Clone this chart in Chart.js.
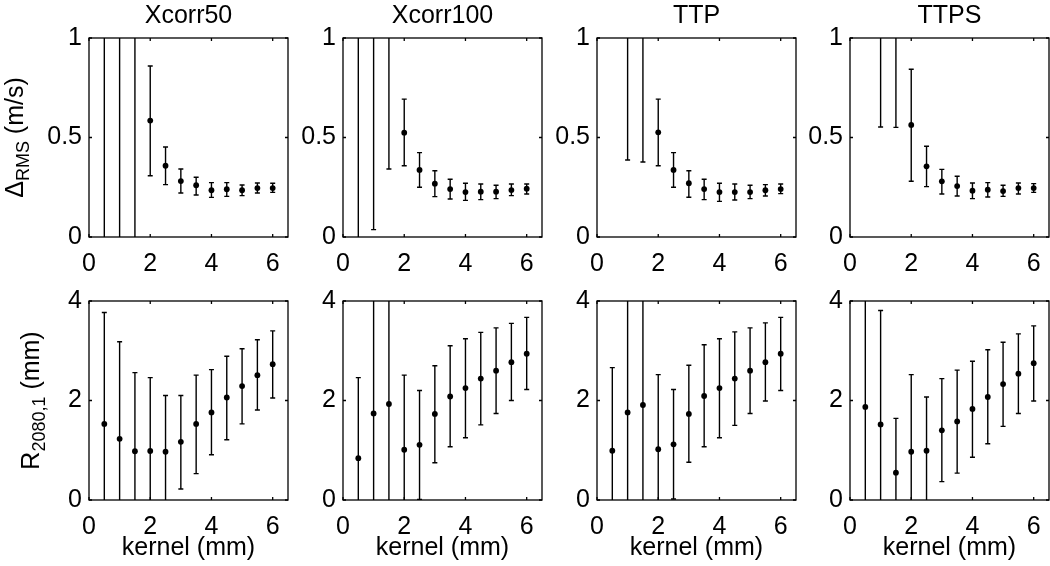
<!DOCTYPE html>
<html>
<head>
<meta charset="utf-8">
<script src="https://cdn.jsdelivr.net/npm/chart.js@4.4.1/dist/chart.umd.min.js"></script>
<style>
  body { margin: 0; background: #fff; }
  #wrap { position: relative; width: 1050px; height: 566px; overflow: hidden; }
  #wrap canvas { position: absolute; }
</style>
</head>
<body>
<div id="wrap"></div>
<script>
// kernel size (mm) on the x axis
var kernel = [0.5, 1, 1.5, 2, 2.5, 3, 3.5, 4, 4.5, 5, 5.5, 6];
var xTicks = [0, 2, 4, 6];
var rmsTicks = [0, 0.5, 1];
var rTicks = [0, 2, 4];
var methods = ['Xcorr50', 'Xcorr100', 'TTP', 'TTPS'];

// Delta_RMS (m/s): mean, lower and upper end of the error bar
var rmsXcorr50   = [1.9, 1.5, 1.2, 0.585, 0.358, 0.281, 0.26, 0.235, 0.24, 0.235, 0.246, 0.246];
var rmsXcorr50Lo = [-0.6, -0.4, -0.2, 0.308, 0.263, 0.221, 0.211, 0.199, 0.204, 0.208, 0.221, 0.224];
var rmsXcorr50Hi = [4.4, 3.4, 2.6, 0.859, 0.452, 0.342, 0.30, 0.273, 0.273, 0.261, 0.271, 0.270];

var rmsXcorr100   = [1.8, 1.3, 1.1, 0.524, 0.337, 0.268, 0.241, 0.226, 0.228, 0.228, 0.236, 0.243];
var rmsXcorr100Lo = [-0.3, 0.037, 0.342, 0.358, 0.25, 0.203, 0.191, 0.184, 0.188, 0.193, 0.208, 0.216];
var rmsXcorr100Hi = [3.9, 2.6, 1.9, 0.693, 0.424, 0.333, 0.29, 0.27, 0.266, 0.26, 0.266, 0.266];

var rmsTTP   = [3.0, 1.3, 1.2, 0.526, 0.337, 0.27, 0.241, 0.226, 0.226, 0.226, 0.235, 0.241];
var rmsTTPLo = [1.4, 0.387, 0.377, 0.358, 0.25, 0.2, 0.188, 0.179, 0.186, 0.193, 0.206, 0.218];
var rmsTTPHi = [4.6, 2.2, 2.0, 0.693, 0.424, 0.333, 0.29, 0.27, 0.266, 0.26, 0.263, 0.266];

var rmsTTPS   = [3.0, 1.4, 1.3, 0.563, 0.355, 0.28, 0.256, 0.233, 0.238, 0.231, 0.246, 0.246];
var rmsTTPSLo = [1.5, 0.553, 0.551, 0.28, 0.253, 0.216, 0.206, 0.193, 0.201, 0.204, 0.216, 0.224];
var rmsTTPSHi = [4.5, 2.2, 2.0, 0.843, 0.456, 0.34, 0.305, 0.271, 0.273, 0.26, 0.271, 0.268];

// R_2080,1 (mm)
var rXcorr50   = [1.53, 1.23, 0.98, 0.985, 0.97, 1.17, 1.53, 1.76, 2.06, 2.29, 2.51, 2.73];
var rXcorr50Lo = [-0.71, -0.72, -0.60, -0.49, -0.16, 0.22, 0.53, 0.91, 1.21, 1.53, 1.81, 2.05];
var rXcorr50Hi = [3.77, 3.18, 2.56, 2.46, 2.10, 2.10, 2.51, 2.62, 2.89, 3.04, 3.22, 3.40];

var rXcorr100   = [0.84, 1.74, 1.93, 1.01, 1.11, 1.73, 2.08, 2.25, 2.44, 2.60, 2.77, 2.94];
var rXcorr100Lo = [-0.78, -1.4, -1.3, -0.49, 0.01, 0.75, 1.07, 1.25, 1.51, 1.74, 2.00, 2.22];
var rXcorr100Hi = [2.46, 4.9, 5.2, 2.51, 2.20, 2.70, 3.10, 3.24, 3.37, 3.46, 3.55, 3.67];

var rTTP   = [0.99, 1.76, 1.91, 1.02, 1.12, 1.73, 2.09, 2.25, 2.44, 2.60, 2.77, 2.94];
var rTTPLo = [-0.68, -1.4, -1.3, -0.48, 0.02, 0.76, 1.07, 1.25, 1.50, 1.74, 1.99, 2.20];
var rTTPHi = [2.66, 4.9, 5.1, 2.52, 2.22, 2.71, 3.12, 3.24, 3.38, 3.46, 3.56, 3.67];

var rTTPS   = [1.87, 1.52, 0.55, 0.97, 0.99, 1.40, 1.58, 1.83, 2.07, 2.33, 2.54, 2.75];
var rTTPSLo = [-0.56, -0.77, -0.54, -0.58, -0.09, 0.37, 0.54, 0.86, 1.13, 1.48, 1.74, 1.99];
var rTTPSHi = [4.3, 3.81, 1.64, 2.52, 2.07, 2.44, 2.61, 2.79, 3.02, 3.17, 3.34, 3.50];

var fontFam = '"Liberation Sans", Arial, sans-serif';
Chart.defaults.font.family = fontFam;
Chart.defaults.font.size = 25;
Chart.defaults.color = '#000';
Chart.defaults.animation = false;

var plotLeft = [89, 343, 597, 850];
var plotW = 199;
var leftMargin = 89;
var rightMargin = 6;

// error bars, frame and inward ticks like matlab
var matlabBox = {
    id: 'matlabBox',
    afterDatasetsDraw: function (chart) {
        var ctx = chart.ctx, a = chart.chartArea;
        var xs = chart.scales.x, ys = chart.scales.y;
        chart.data.datasets.forEach(function (ds) {
            ctx.save();
            ctx.beginPath();
            ctx.rect(a.left, a.top, a.right - a.left, a.bottom - a.top);
            ctx.clip();
            ctx.strokeStyle = '#000';
            ctx.lineWidth = 1.4;
            ds.data.forEach(function (p, i) {
                var x = xs.getPixelForValue(p.x);
                var y1 = ys.getPixelForValue(ds.lo[i]);
                var y2 = ys.getPixelForValue(ds.hi[i]);
                ctx.beginPath();
                ctx.moveTo(x, y1); ctx.lineTo(x, y2);
                ctx.moveTo(x - 2.5, y1); ctx.lineTo(x + 2.5, y1);
                ctx.moveTo(x - 2.5, y2); ctx.lineTo(x + 2.5, y2);
                ctx.stroke();
            });
            ctx.restore();
        });
    },
    afterDraw: function (chart) {
        var ctx = chart.ctx, a = chart.chartArea;
        var xs = chart.scales.x, ys = chart.scales.y;
        var opts = chart.options.plugins.matlabBox;
        ctx.save();
        ctx.strokeStyle = '#000';
        ctx.lineWidth = 1.3;
        ctx.strokeRect(a.left, a.top, a.right - a.left, a.bottom - a.top);
        ctx.beginPath();
        xs.ticks.forEach(function (t) {
            var x = xs.getPixelForValue(t.value);
            ctx.moveTo(x, a.bottom); ctx.lineTo(x, a.bottom - 3);
            ctx.moveTo(x, a.top); ctx.lineTo(x, a.top + 3);
        });
        ys.ticks.forEach(function (t) {
            var y = ys.getPixelForValue(t.value);
            ctx.moveTo(a.left, y); ctx.lineTo(a.left + 3, y);
            ctx.moveTo(a.right, y); ctx.lineTo(a.right - 3, y);
        });
        ctx.stroke();
        ctx.fillStyle = '#000';

        // panel title centred over the axes
        if (opts.title) {
            ctx.font = '25px ' + fontFam;
            ctx.textAlign = 'center';
            ctx.textBaseline = 'alphabetic';
            ctx.fillText(opts.title, (a.left + a.right) / 2, 23);
        }

        // y label with subscript, only in the first column
        var yl = opts.ylabel;
        if (yl) {
            var cy = (a.top + a.bottom) / 2;
            var main = '25px ' + fontFam;
            var sub = '18px ' + fontFam;
            ctx.font = main; var w1 = ctx.measureText(yl[0]).width;
            var w3 = ctx.measureText(yl[2]).width;
            ctx.font = sub; var w2 = ctx.measureText(yl[1]).width;
            var tw = w1 + w2 + w3;
            ctx.translate(yl[3], cy);
            ctx.rotate(-Math.PI / 2);
            ctx.textBaseline = 'alphabetic';
            ctx.textAlign = 'left';
            ctx.font = main; ctx.fillText(yl[0], -tw / 2, 0);
            ctx.font = sub; ctx.fillText(yl[1], -tw / 2 + w1, 6);
            ctx.font = main; ctx.fillText(yl[2], -tw / 2 + w1 + w2, 0);
        }
        ctx.restore();
    }
};

function makePanel(row, col, mean, lo, hi) {
    var top = row === 0;
    var cv = document.createElement('canvas');
    var cw = leftMargin + plotW + rightMargin;
    var ch = top ? 285 : 296;
    cv.width = cw; cv.height = ch;
    cv.style.left = (plotLeft[col] - leftMargin) + 'px';
    cv.style.top = (top ? 0 : 270) + 'px';
    document.getElementById('wrap').appendChild(cv);

    var pts = kernel.map(function (k, i) { return { x: k, y: mean[i] }; });
    var yTicks = top ? rmsTicks : rTicks;

    var ylabel = null;
    if (col === 0) {
        ylabel = top ? ['\u0394', 'RMS', ' (m/s)', 23] : ['R', '2080,1', ' (mm)', 39];
    }

    return new Chart(cv.getContext('2d'), {
        type: 'scatter',
        data: {
            datasets: [{
                data: pts,
                lo: lo,
                hi: hi,
                clip: 0,
                pointRadius: 2.9,
                pointBackgroundColor: '#000',
                pointBorderColor: '#000',
                pointBorderWidth: 0
            }]
        },
        options: {
            responsive: false,
            devicePixelRatio: 1,
            events: [],
            layout: {
                padding: { left: 0, right: rightMargin, top: top ? 38 : 31, bottom: 0 }
            },
            plugins: {
                legend: { display: false },
                tooltip: { enabled: false },
                title: { display: false },
                matlabBox: { ylabel: ylabel, title: top ? methods[col] : null }
            },
            scales: {
                x: {
                    type: 'linear',
                    min: 0,
                    max: 6.5,
                    afterBuildTicks: function (s) { s.ticks = xTicks.map(function (v) { return { value: v }; }); },
                    afterFit: function (s) { s.height = top ? 48 : 66; },
                    grid: { display: false, drawTicks: false },
                    border: { display: false },
                    ticks: { padding: 12, maxRotation: 0 },
                    title: {
                        display: !top,
                        text: 'kernel (mm)',
                        font: { size: 25 },
                        padding: { top: 0, bottom: 3 }
                    }
                },
                y: {
                    type: 'linear',
                    min: 0,
                    max: top ? 1 : 4,
                    afterBuildTicks: function (s) { s.ticks = yTicks.map(function (v) { return { value: v }; }); },
                    afterFit: function (s) { s.width = leftMargin; },
                    grid: { display: false, drawTicks: false },
                    border: { display: false },
                    ticks: { padding: 7, callback: function (v) { return String(v); } }
                }
            }
        },
        plugins: [matlabBox]
    });
}

makePanel(0, 0, rmsXcorr50, rmsXcorr50Lo, rmsXcorr50Hi);
makePanel(0, 1, rmsXcorr100, rmsXcorr100Lo, rmsXcorr100Hi);
makePanel(0, 2, rmsTTP, rmsTTPLo, rmsTTPHi);
makePanel(0, 3, rmsTTPS, rmsTTPSLo, rmsTTPSHi);
makePanel(1, 0, rXcorr50, rXcorr50Lo, rXcorr50Hi);
makePanel(1, 1, rXcorr100, rXcorr100Lo, rXcorr100Hi);
makePanel(1, 2, rTTP, rTTPLo, rTTPHi);
makePanel(1, 3, rTTPS, rTTPSLo, rTTPSHi);
</script>
</body>
</html>
